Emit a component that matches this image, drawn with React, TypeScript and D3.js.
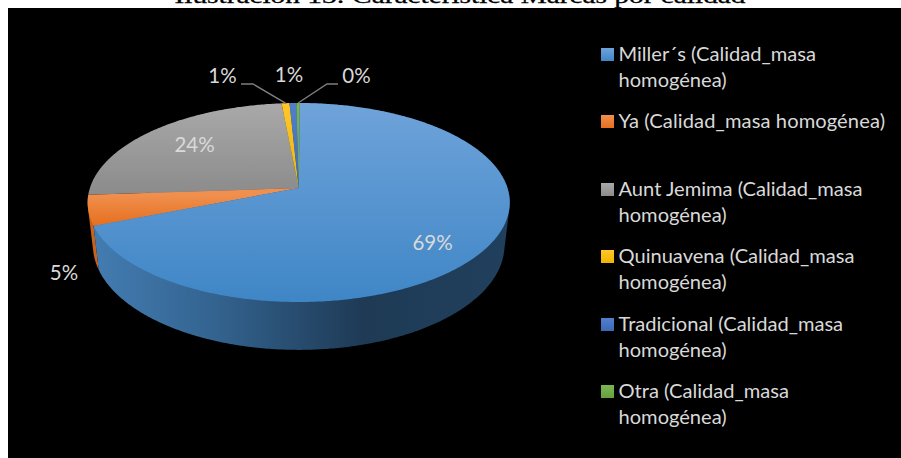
import React from "react";
import * as d3 from "d3";

const TITLE = "Ilustración 13: Característica Marcas por calidad";
const names = ["Miller´s", "Ya", "Aunt Jemima", "Quinuavena", "Tradicional", "Otra"];
const shares = [68.9, 4.9, 24.6, 0.7, 0.6, 0.3];
const shownLabels = ["69%", "5%", "24%", "1%", "1%", "0%"];
const colors = ["#5b9bd5", "#ed7d31", "#a5a5a5", "#ffc000", "#4472c4", "#70ad47"];
const topLight = ["#6fa3da", "#f08f4e", "#a9a9a9", "#ffc62a", "#5080cc", "#7cb554"];
const topDark = ["#3f86c6", "#e66f1d", "#8b8b8b", "#eeb400", "#3d68b4", "#65a03f"];
const legendLines = [
  ["Miller´s (Calidad_masa", "homogénea)"],
  ["Ya (Calidad_masa homogénea)"],
  ["Aunt Jemima (Calidad_masa", "homogénea)"],
  ["Quinuavena (Calidad_masa", "homogénea)"],
  ["Tradicional (Calidad_masa", "homogénea)"],
  ["Otra (Calidad_masa", "homogénea)"],
];
const legendBaselines = [61, 128, 196, 263, 331, 398];
const labelAnchors: [number, number][] = [
  [432.5, 250], [64, 280], [194.5, 152], [222.5, 83], [289, 82], [356.5, 83],
];

const W = 901, H = 458;
const FONT = "Lato, 'Noto Sans', sans-serif";
const apexX = 298.7, apexY = 188;
const R = 208.8, a = 70, c = -0.1457;
const project = (t: number): [number, number] => {
  const u = Math.sin(t), v = -Math.cos(t), q = 1 + c * v;
  return [apexX + (R * u) / q, (a * v + apexY) / q];
};
const lower = ([x, y]: [number, number]): [number, number] => [apexX + 0.975 * (x - apexX), 1.0526 * y + 32];
const sample = (s: number, e: number) => {
  const n = Math.max(2, Math.ceil((e - s) / 0.01));
  return d3.range(n + 1).map((i) => s + ((e - s) * i) / n);
};
const line = d3.line<[number, number]>();

export default function App() {
  const arcs = d3.pie<number>().sort(null).startAngle(0.006).endAngle(Math.PI * 2 + 0.006)(shares);
  const wall = (i: number) => {
    const ts = sample(arcs[i].startAngle, arcs[i].endAngle);
    const top = ts.map(project);
    return line(d3.polygonHull([...top, ...top.map(lower)])!) + "Z";
  };
  const slice = (i: number) => {
    const ts = sample(arcs[i].startAngle, arcs[i].endAngle);
    return line([[apexX, apexY], ...ts.map(project)]) + "Z";
  };
  const yellowMid = project((arcs[3].startAngle + arcs[3].endAngle) / 2);
  const greenMid = project((arcs[5].startAngle + arcs[5].endAngle) / 2);
  return (
    <svg width={W} height={H} viewBox={`0 0 ${W} ${H}`} style={{ position: "absolute", left: 0, top: 0, display: "block" }}>
      <rect width={W} height={H} fill="#fff" />
      <text x={460} y={3} textAnchor="middle" fontFamily="'Liberation Serif', serif" fontSize={21.5} textLength={571} lengthAdjust="spacingAndGlyphs" fill="#000" stroke="#000" strokeWidth={0.3}>{TITLE}</text>
      <rect x={8} y={8} width={W - 8} height={H - 8} fill="#000" />
      <defs>
        {colors.map((_, i) => (
          <linearGradient key={i} id={`top${i}`} gradientUnits="userSpaceOnUse" x1={0} x2={0} y1={i === 0 ? 103 : i === 1 ? 195 : 103} y2={i === 0 ? 302 : i === 1 ? 226 : 195}>
            <stop offset="0" stopColor={topLight[i]} />
            <stop offset="1" stopColor={topDark[i]} />
          </linearGradient>
        ))}
        <linearGradient id="wallBlue" gradientUnits="userSpaceOnUse" x1={90} x2={510} y1={0} y2={0}>
          <stop offset="0" stopColor="#447db3" />
          <stop offset="0.3" stopColor="#33638f" />
          <stop offset="0.65" stopColor="#1e3a55" />
          <stop offset="1" stopColor="#21405d" />
        </linearGradient>
        {colors.map((_, i) => (
          <linearGradient key={i} id={`leg${i}`} x1={0} x2={0} y1={0} y2={1}>
            <stop offset="0" stopColor={topLight[i]} />
            <stop offset="1" stopColor={topDark[i]} />
          </linearGradient>
        ))}
      </defs>
      <path d={wall(1)} fill="#c9621b" />
      <path d={wall(0)} fill="url(#wallBlue)" />
      {[2, 1, 3, 4, 5, 0].map((i) => (
        <path key={i} d={slice(i)} fill={`url(#top${i})`} />
      ))}
      <path d={line([[241, 84], [253, 84], yellowMid])!} fill="none" stroke="#7f7f7f" strokeWidth={1.4} />
      <path d={line([[338, 84], [327, 84], greenMid])!} fill="none" stroke="#7f7f7f" strokeWidth={1.4} />
      {shownLabels.map((t, i) => (
        <text key={i} x={labelAnchors[i][0]} y={labelAnchors[i][1]} textAnchor="middle" fontFamily={FONT} fontSize={20.5} fill="#d9d9d9">{t}</text>
      ))}
      {names.map((n, i) => (
        <g key={n}>
          <rect x={601} y={legendBaselines[i] - 13} width={13} height={13} fill={`url(#leg${i})`} />
          {legendLines[i].map((l, j) => (
            <text key={j} x={618.5} y={legendBaselines[i] + j * 26.3} fontFamily={FONT} fontSize={20.1} fill="#d9d9d9" {...(i === 1 ? { textLength: 266.5 } : {})}>{l}</text>
          ))}
        </g>
      ))}
    </svg>
  );
}
